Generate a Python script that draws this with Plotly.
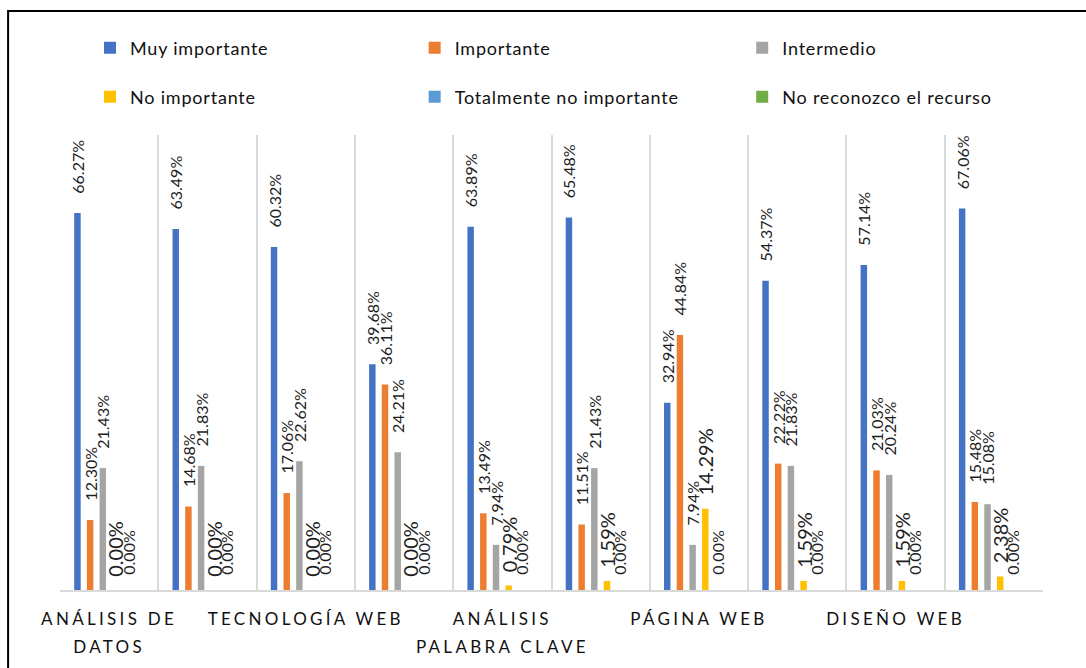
import plotly.graph_objects as go

# Category tick labels (only every other group carries a visible label)
tick_positions = [0, 2, 4, 6, 8]
tick_labels = [
    "ANÁLISIS DE<br>DATOS",
    "TECNOLOGÍA WEB",
    "ANÁLISIS<br>PALABRA CLAVE",
    "PÁGINA WEB",
    "DISEÑO WEB",
]
groups = list(range(10))

series_names = [
    "Muy importante",
    "Importante",
    "Intermedio",
    "No importante",
    "Totalmente no importante",
    "No reconozco el recurso",
]
muy_importante = [66.27, 63.49, 60.32, 39.68, 63.89, 65.48, 32.94, 54.37, 57.14, 67.06]
importante = [12.30, 14.68, 17.06, 36.11, 13.49, 11.51, 44.84, 22.22, 21.03, 15.48]
intermedio = [21.43, 21.83, 22.62, 24.21, 7.94, 21.43, 7.94, 21.83, 20.24, 15.08]
no_importante = [0.00, 0.00, 0.00, 0.00, 0.79, 1.59, 14.29, 1.59, 1.59, 2.38]
totalmente_no = [0.00, 0.00, 0.00, 0.00, 0.00, 0.00, 0.00, 0.00, 0.00, 0.00]
no_reconozco = [0.00, 0.00, 0.00, 0.00, 0.00, 0.00, 0.00, 0.00, 0.00, 0.00]

series_values = [muy_importante, importante, intermedio, no_importante, totalmente_no, no_reconozco]
colors = ["#4472C4", "#ED7D31", "#A5A5A5", "#FFC000", "#5B9BD5", "#70AD47"]
label_sizes = [16, 16, 16, 20, 16, None]
label_pad = [4, 4, 4, 2, 3, 0]   # non-breaking spaces between bar end and label

FONT = "Lato, 'Liberation Sans', sans-serif"
TEXT_COLOR = "#1f1f1f"

# legend placement, one legend box per entry (two rows of three)
legend_x = [0.0305, 0.3608, 0.694, 0.0305, 0.3608, 0.694]
legend_y = [1.1912, 1.1912, 1.1912, 1.0835, 1.0835, 1.0835]

fig = go.Figure()

for i, (name, vals, col, lsize) in enumerate(zip(series_names, series_values, colors, label_sizes)):
    legend_id = "legend" if i == 0 else f"legend{i + 1}"
    kwargs = {}
    if lsize is not None:
        kwargs = dict(
            texttemplate="\u00a0" * label_pad[i] + "%{y:.2f}%",
            textposition="outside",
            textangle=-90,
            textfont=dict(family=FONT, size=lsize, color=TEXT_COLOR),
            constraintext="none",
            cliponaxis=False,
        )
    fig.add_trace(go.Bar(
        x=groups,
        y=vals,
        name=f'<span style="letter-spacing:0.8px">{name}</span>',
        marker=dict(color=col, line=dict(width=0)),
        legend=legend_id,
        **kwargs,
    ))

# helper trace that carries the category-boundary grid axis
fig.add_trace(go.Scatter(x=[], y=[], xaxis="x2", showlegend=False, hoverinfo="skip"))

layout_legends = {}
for i in range(6):
    key = "legend" if i == 0 else f"legend{i + 1}"
    layout_legends[key] = dict(
        x=legend_x[i], y=legend_y[i],
        xanchor="left", yanchor="middle",
        orientation="h",
        font=dict(family=FONT, size=18, color="#111111"),
        bgcolor="rgba(0,0,0,0)",
        borderwidth=0,
    )

spaced_labels = [
    "<br>".join(
        f'<span style="letter-spacing:3.3px;font-size:17px">{part}</span>'
        for part in lab.split("<br>")
    )
    for lab in tick_labels
]

fig.update_layout(
    width=1086,
    height=668,
    margin=dict(l=60, r=43, t=135, b=78, autoexpand=False),
    paper_bgcolor="white",
    plot_bgcolor="white",
    barmode="group",
    bargap=0.226,
    bargroupgap=0.49,
    font=dict(family=FONT, color=TEXT_COLOR),
    showlegend=True,
    xaxis=dict(
        range=[-0.5, 9.5],
        tickmode="array",
        tickvals=tick_positions,
        ticktext=spaced_labels,
        tickangle=0,
        tickfont=dict(family=FONT, size=21, color="#111111"),
        showgrid=False,
        zeroline=False,
        showline=True,
        linecolor="#d9d9d9",
        linewidth=2,
        ticks="",
        ticklabelstandoff=8,
        fixedrange=True,
    ),
    xaxis2=dict(
        overlaying="x",
        matches="x",
        range=[-0.5, 9.5],
        tickmode="linear",
        tick0=-0.5,
        dtick=1,
        showgrid=True,
        gridcolor="#d9d9d9",
        gridwidth=2,
        showticklabels=False,
        showline=False,
        zeroline=False,
        ticks="",
    ),
    yaxis=dict(
        range=[0, 80],
        visible=False,
        fixedrange=True,
    ),
    shapes=[
        dict(
            type="rect", xref="paper", yref="paper",
            x0=-0.0528, y0=1.2725, x1=1.06, y1=-0.2,
            line=dict(color="black", width=2),
            fillcolor="rgba(0,0,0,0)",
            layer="above",
        )
    ],
    **layout_legends,
)

fig.write_html("out.html")
